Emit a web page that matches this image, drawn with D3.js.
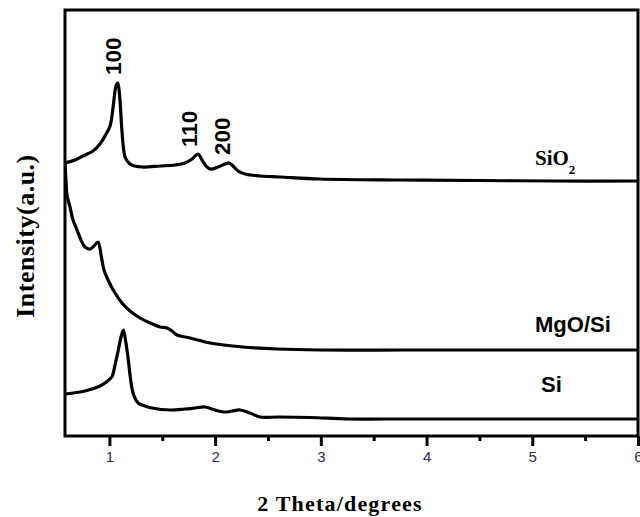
<!DOCTYPE html>
<html>
<head>
<meta charset="utf-8">
<script src="https://cdn.jsdelivr.net/npm/d3@7"></script>
<style>
  html, body { margin: 0; padding: 0; background: #fff; }
  svg { display: block; }
</style>
</head>
<body>
<svg id="chart" width="640" height="517"></svg>
<script>
// ---- Data (2θ in degrees, intensity in arbitrary units) ----
const sio2X = [0.580,0.675,0.769,0.845,0.911,0.958,1.006,1.034,1.062,1.079,1.096,1.116,1.133,1.148,1.176,1.211,1.306,1.479,1.621,1.715,1.782,1.838,1.876,1.914,1.952,2.027,2.094,2.132,2.169,2.217,2.283,2.425,2.614,2.992,3.749,4.5,5.2,6.0];
const sio2Y = [273,276,281,285,292,300,310,328,350,353,341,309,288,279,274,271,269,270,271,273,277,282,276,270,267,269,272,273,270,265,262,260,259,257,256,255.5,255,255];

const mgoX = [0.580,0.589,0.599,0.627,0.656,0.694,0.731,0.769,0.817,0.854,0.892,0.921,0.949,0.987,1.053,1.119,1.195,1.290,1.384,1.479,1.545,1.592,1.640,1.763,1.952,2.264,2.586,2.992,3.8,4.7,5.4,6.0];
const mgoY = [273,256,241,229,216,206,196,189,187,190,194,181,166,156,143,133,125,118,113,109,108,105,101,98,93,89,87,86,86,86,86,86];

const siX = [0.580,0.769,0.911,0.958,1.022,1.053,1.084,1.110,1.132,1.152,1.179,1.195,1.211,1.233,1.271,1.337,1.403,1.573,1.715,1.810,1.905,1.999,2.094,2.160,2.236,2.330,2.425,2.6,2.898,3.26,3.6,4.3,5.0,5.6,6.0];
const siY = [42,45,50,53,59,71,86,99,106,96,76,61,49,40,33,30,28,26,27,28,29,26,24,25,26,23,19,19,18.5,17,17,17,17,17,17];

const seriesNames = ["SiO2", "MgO/Si", "Si"];
const majorTicks = [1, 2, 3, 4, 5, 6];
const minorTicks = [1.5, 2.5, 3.5, 4.5, 5.5];
const peakLabels = ["100", "110", "200"];
const peakX = [1.079, 1.838, 2.132];
const peakY = [353, 282, 273];
const xDomain = [0.58, 6];
const yDomain = [0, 426];

// ---- Layout ----
const L = 65, R = 638, T = 10, B = 436;
const svg = d3.select("#chart");
const x = d3.scaleLinear().domain(xDomain).range([L, R]);
const y = d3.scaleLinear().domain(yDomain).range([B, T]);

svg.append("defs").append("clipPath").attr("id", "clip")
  .append("rect").attr("x", L).attr("y", T).attr("width", R - L).attr("height", B - T);

const line = d3.line().x(d => x(d[0])).y(d => y(d[1])).curve(d3.curveCatmullRom.alpha(0.5));
const series = [
  d3.zip(sio2X, sio2Y),
  d3.zip(mgoX, mgoY),
  d3.zip(siX, siY)
];
const g = svg.append("g").attr("clip-path", "url(#clip)");
series.forEach(s => {
  g.append("path").datum(s)
    .attr("d", line)
    .attr("fill", "none")
    .attr("stroke", "#000")
    .attr("stroke-width", 3.2)
    .attr("stroke-linejoin", "round");
});

// ---- Frame ----
svg.append("rect").attr("x", L).attr("y", T).attr("width", R - L).attr("height", B - T)
  .attr("fill", "none").attr("stroke", "#000").attr("stroke-width", 3);

// ---- X axis ----
const xAxis = d3.axisBottom(x).tickValues(majorTicks).tickFormat(d3.format("d")).tickSize(10).tickPadding(5);
const ax = svg.append("g").attr("transform", `translate(0,${B})`).call(xAxis);
ax.select(".domain").remove();
ax.selectAll(".tick line").attr("stroke", "#000").attr("stroke-width", 3);
ax.selectAll(".tick text").attr("fill", "#2e2e60")
  .style("font-family", "Arial, 'Liberation Sans', sans-serif").style("font-size", "15px");
const axMinor = d3.axisBottom(x).tickValues(minorTicks).tickFormat("").tickSize(5);
const am = svg.append("g").attr("transform", `translate(0,${B})`).call(axMinor);
am.select(".domain").remove();
am.selectAll(".tick line").attr("stroke", "#000").attr("stroke-width", 3);

// ---- Axis titles ----
svg.append("text")
  .attr("x", 340).attr("y", 511)
  .attr("text-anchor", "middle")
  .style("font-family", "'Times New Roman', 'Liberation Serif', serif")
  .style("font-weight", "bold").style("font-size", "22px").style("letter-spacing", "1.2px")
  .text("2 Theta/degrees");

svg.append("text")
  .attr("transform", "translate(34,236) rotate(-90)")
  .attr("text-anchor", "middle")
  .style("font-family", "'Times New Roman', 'Liberation Serif', serif")
  .style("font-weight", "bold").style("font-size", "26px").style("letter-spacing", "0.5px")
  .text("Intensity(a.u.)");

// ---- Peak labels ----
peakLabels.forEach((t, i) => {
  const px = x(peakX[i]) + [3, -1, 1][i];
  const py = y(peakY[i]) - [8, 7, 8][i];
  svg.append("text")
    .attr("transform", `translate(${px},${py}) rotate(-90)`)
    .attr("text-anchor", "start")
    .style("font-family", "Arial, 'Liberation Sans', sans-serif")
    .style("font-weight", "bold").style("font-size", "22.5px")
    .text(t);
});

// ---- Series labels ----
const sioLabel = svg.append("text")
  .attr("x", 535).attr("y", 165)
  .style("font-family", "'Times New Roman', 'Liberation Serif', serif")
  .style("font-weight", "bold").style("font-size", "21px");
sioLabel.append("tspan").text("SiO");
sioLabel.append("tspan").attr("dy", 9).style("font-size", "13px").text("2");

svg.append("text")
  .attr("x", 535).attr("y", 332)
  .style("font-family", "Arial, 'Liberation Sans', sans-serif")
  .style("font-weight", "bold").style("font-size", "22px")
  .text(seriesNames[1]);

svg.append("text")
  .attr("x", 541).attr("y", 392)
  .style("font-family", "Arial, 'Liberation Sans', sans-serif")
  .style("font-weight", "bold").style("font-size", "22px")
  .text(seriesNames[2]);
</script>
</body>
</html>
